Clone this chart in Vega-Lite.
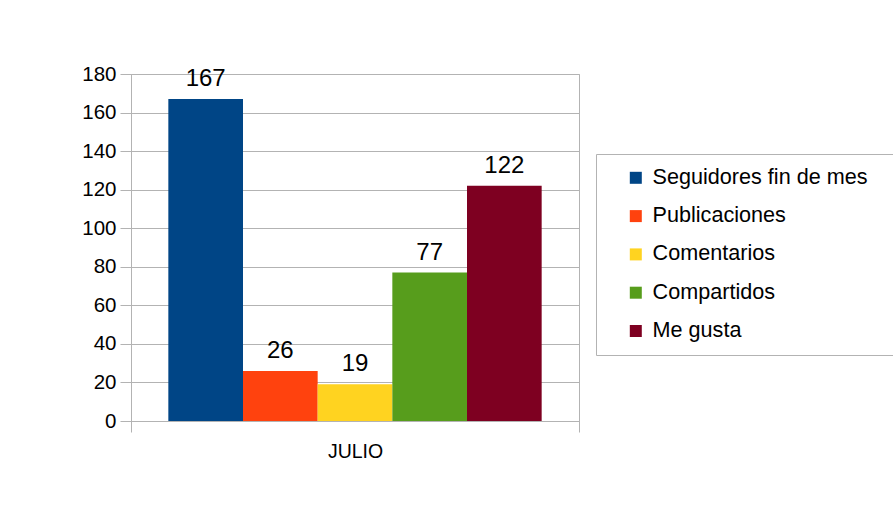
{
  "$schema": "https://vega.github.io/schema/vega-lite/v6.json",
  "autosize": "none",
  "padding": {"left": 131, "top": 74, "right": 314, "bottom": 102},
  "width": 448,
  "height": 347,
  "background": "white",
  "config": {
    "font": "Liberation Sans",
    "view": {"stroke": "#b3b3b3", "strokeWidth": 1}
  },
  "data": {
    "values": [
      {"mes": "JULIO", "serie": "Seguidores fin de mes", "valor": 167},
      {"mes": "JULIO", "serie": "Publicaciones", "valor": 26},
      {"mes": "JULIO", "serie": "Comentarios", "valor": 19},
      {"mes": "JULIO", "serie": "Compartidos", "valor": 77},
      {"mes": "JULIO", "serie": "Me gusta", "valor": 122}
    ]
  },
  "encoding": {
    "x": {
      "field": "mes", "type": "nominal",
      "scale": {"paddingInner": 0, "paddingOuter": 0},
      "axis": {
        "title": null, "labelAngle": 0, "tickBand": "extent",
        "tickSize": 11, "tickColor": "#b3b3b3", "domainColor": "#b3b3b3",
        "labelFontSize": 19.5, "labelColor": "#000000", "labelPadding": 10
      }
    },
    "xOffset": {
      "field": "serie", "type": "nominal",
      "sort": ["Seguidores fin de mes", "Publicaciones", "Comentarios", "Compartidos", "Me gusta"],
      "scale": {"paddingInner": 0, "paddingOuter": 0.5}
    },
    "y": {
      "field": "valor", "type": "quantitative",
      "scale": {"domain": [0, 180], "nice": false},
      "axis": {
        "title": null, "values": [0, 20, 40, 60, 80, 100, 120, 140, 160, 180],
        "grid": true, "gridColor": "#b3b3b3", "tickColor": "#b3b3b3",
        "domainColor": "#b3b3b3", "tickSize": 11,
        "labelFontSize": 20.5, "labelColor": "#000000", "labelPadding": 4
      }
    }
  },
  "layer": [
    {
      "mark": {"type": "bar"},
      "encoding": {
        "color": {
          "field": "serie", "type": "nominal",
          "sort": ["Seguidores fin de mes", "Publicaciones", "Comentarios", "Compartidos", "Me gusta"],
          "scale": {
            "domain": ["Seguidores fin de mes", "Publicaciones", "Comentarios", "Compartidos", "Me gusta"],
            "range": ["#004586", "#ff420e", "#ffd320", "#579d1c", "#7e0021"]
          },
          "legend": {
            "title": null, "orient": "none", "legendX": 465, "legendY": 80,
            "symbolType": "square", "symbolSize": 144, "symbolStrokeWidth": 0,
            "labelFontSize": 21.6, "labelColor": "#000000", "labelOffset": 6,
            "rowPadding": 15.3, "padding": 13, "symbolOffset": 16,
            "strokeColor": "#b3b3b3", "fillColor": "white",
            "labelLimit": 500,
            "labelExpr": "datum.label + '\u2800'"
          }
        }
      }
    },
    {
      "mark": {"type": "text", "baseline": "alphabetic", "dy": -13, "fontSize": 24, "color": "#000000"},
      "encoding": {
        "text": {"field": "valor", "type": "quantitative"}
      }
    }
  ]
}
